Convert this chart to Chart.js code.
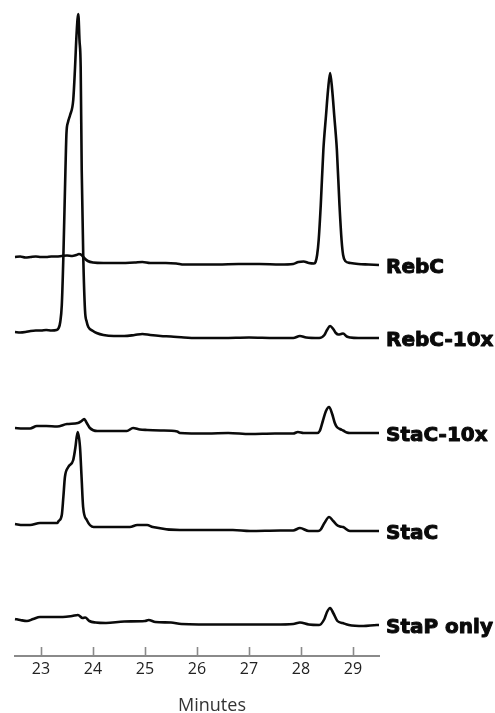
<!DOCTYPE html>
<html>
<head>
<meta charset="utf-8">
<script src="https://cdn.jsdelivr.net/npm/chart.js@4.4.1/dist/chart.umd.min.js"></script>
<style>
  html, body { margin: 0; padding: 0; background: #ffffff; }
  #wrap { width: 495px; height: 713px; }
</style>
</head>
<body>
<div id="wrap"><canvas id="c" width="495" height="713"></canvas></div>
<script>
// ---- Data (retention time in minutes, detector signal in arbitrary units) ----
const traceNames = ["RebC", "RebC-10x", "StaC-10x", "StaC", "StaP only"];
const traceOffsets = [392, 319, 223, 125, 31];
const xTickValues = [23, 24, 25, 26, 27, 28, 29];
const xAxisTitle = "Minutes";

const rebcTimes  = [22.5,22.6,22.7,22.8,22.9,23.0,23.1,23.2,23.3,23.4,23.5,23.6,23.68,23.73,23.78,23.83,23.9,24.0,24.2,24.5,24.8,24.95,25.1,25.4,25.6,25.75,26.0,26.4,26.8,27.2,27.6,27.85,27.95,28.05,28.15,28.25,28.28,28.31,28.34,28.38,28.43,28.48,28.52,28.56,28.60,28.64,28.69,28.74,28.78,28.81,28.85,28.95,29.1,29.3,29.5];
const rebcSignal = [7,7.5,6.5,7,7.5,7,7,7.5,7.5,8,8.5,8,9,10,9,6,3,1.5,1,1,1.5,2,1,1,0.5,-0.5,-0.5,-0.5,0,0,-0.5,0,2,2.5,1,0.5,2,9,24,59,114,148,174,191,174,148,114,59,24,9,3,1,0,-0.5,-1];

const rebc10Times  = [22.5,22.6,22.7,22.8,22.9,23.0,23.1,23.2,23.3,23.34,23.37,23.40,23.43,23.47,23.49,23.52,23.56,23.62,23.655,23.685,23.717,23.74,23.763,23.783,23.813,23.846,23.88,23.91,24.0,24.07,24.2,24.4,24.6,24.8,24.95,25.1,25.3,25.5,25.75,26.0,26.5,27.0,27.5,27.85,27.98,28.1,28.35,28.45,28.5,28.56,28.62,28.67,28.72,28.77,28.81,28.88,28.95,29.1,29.3,29.5];
const rebc10Signal = [5,4.5,5,6,6.5,6.5,7,6.5,7,9,15,32,80,167,204,215,222,237,270,304,323,297,270,167,80,27,15,10,6,4,2,1,1,2,3,2,1,0.5,-0.5,-1,-1,-0.5,-1,-1,1,-0.5,-1,2,7,11,8,4,2.5,3,3.5,0.5,-0.5,-1,-1,-1];

const stac10Times  = [22.5,22.65,22.79,22.92,23.1,23.31,23.5,23.71,23.78,23.83,23.88,23.94,24.08,24.4,24.65,24.77,24.9,25.04,25.3,25.62,25.67,26.2,26.6,27.02,27.5,27.85,27.94,28.05,28.31,28.36,28.42,28.48,28.54,28.60,28.65,28.69,28.75,28.81,28.88,28.94,29.2,29.5];
const stac10Signal = [5,4.5,4.5,7,7,6.5,9,10,12,14,10,5,2,2,2,5,3.5,3,2.5,1.5,0,-0.5,0,-1,-0.5,-0.5,1,0,0,2,12,22,26,19,10,6,4,2.5,0.5,0,0,0];

const stacTimes  = [22.5,22.65,22.79,22.98,23.15,23.31,23.34,23.40,23.43,23.46,23.525,23.62,23.66,23.705,23.75,23.78,23.81,23.88,24.01,24.13,24.71,24.85,25.04,25.15,25.67,26.69,27.02,27.6,27.85,27.98,28.15,28.33,28.38,28.45,28.54,28.62,28.69,28.75,28.81,28.94,29.2,29.5];
const stacSignal = [7,6,6,8,8,8,10,16,34,54,64,71,83,99,84,54,24,11,4,4,4,6,6,4,1,1,0,0.5,0.5,3,0,0,1.5,8,14,10,6,4.5,4,0,0,0];

const stapTimes  = [22.5,22.6,22.73,22.85,22.98,23.2,23.42,23.6,23.71,23.8,23.85,23.93,24.05,24.25,24.6,25.0,25.07,25.2,25.5,25.7,26.5,27.5,27.85,27.98,28.15,28.35,28.45,28.5,28.56,28.62,28.7,28.8,28.92,29.2,29.46,29.5];
const stapSignal = [6,5,4,6,8,8,8,9,10,7,7.5,4,2.5,2,3.5,4,5,3,2.5,1,0.5,0.5,1,2.5,0.5,0,6,13,17,12,4,2,0,-1,0,0];

const traceTimes = [rebcTimes, rebc10Times, stac10Times, stacTimes, stapTimes];
const traceSignals = [rebcSignal, rebc10Signal, stac10Signal, stacSignal, stapSignal];

// ---- Build datasets ----
const datasets = traceNames.map((name, k) => ({
  label: name,
  data: traceTimes[k].map((t, i) => ({ x: t, y: traceOffsets[k] + traceSignals[k][i] })),
  borderColor: '#0a0a0a',
  borderWidth: 2.6,
  pointRadius: 0,
  fill: false,
  cubicInterpolationMode: 'monotone',
  tension: 0.4,
  clip: false
}));

// Upward tick marks on the x axis + axis title (drawn slightly right of centre, as in the original)
const upTicks = {
  id: 'upTicks',
  afterDraw(chart) {
    const xs = chart.scales.x;
    const ctx = chart.ctx;
    ctx.save();
    ctx.strokeStyle = '#8a8a8a';
    ctx.lineWidth = 1.6;
    xTickValues.forEach(v => {
      const px = Math.round(xs.getPixelForValue(v)) + 0.5;
      ctx.beginPath();
      ctx.moveTo(px, xs.top);
      ctx.lineTo(px, xs.top - 9);
      ctx.stroke();
    });
    ctx.fillStyle = '#333333';
    ctx.font = '18px "Open Sans", sans-serif';
    ctx.textAlign = 'center';
    ctx.textBaseline = 'middle';
    ctx.fillText(xAxisTitle, (xs.left + xs.right) / 2 + 15, xs.bottom - 7);
    ctx.restore();
  }
};

// Trace labels to the right of each trace
const traceLabels = {
  id: 'traceLabels',
  afterDatasetsDraw(chart) {
    const ctx = chart.ctx;
    const xs = chart.scales.x;
    ctx.save();
    ctx.fillStyle = '#0a0a0a';
    ctx.strokeStyle = '#0a0a0a';
    ctx.lineWidth = 1;
    ctx.lineJoin = 'round';
    ctx.font = 'bold 20px "DejaVu Sans", sans-serif';
    ctx.textAlign = 'left';
    ctx.textBaseline = 'alphabetic';
    chart.data.datasets.forEach((ds, k) => {
      const meta = chart.getDatasetMeta(k);
      const last = meta.data[meta.data.length - 1];
      ctx.fillText(ds.label, xs.right + 7, last.y + 8);
      ctx.strokeText(ds.label, xs.right + 7, last.y + 8);
    });
    ctx.restore();
  }
};

new Chart(document.getElementById('c'), {
  type: 'line',
  data: { datasets },
  options: {
    responsive: false,
    animation: false,
    devicePixelRatio: 1,
    layout: { padding: { left: 15, right: 116, top: 0, bottom: 0 } },
    plugins: {
      legend: { display: false },
      tooltip: { enabled: false }
    },
    scales: {
      x: {
        type: 'linear',
        min: 22.5,
        max: 29.5,
        afterBuildTicks: axis => { axis.ticks = xTickValues.map(v => ({ value: v })); },
        grid: { display: true, drawOnChartArea: false, drawTicks: false },
        border: { display: true, color: '#8a8a8a', width: 2 },
        ticks: {
          padding: 4,
          color: '#222222',
          font: { family: '"Open Sans", sans-serif', size: 16 },
          maxRotation: 0
        },
        title: {
          display: true,
          text: xAxisTitle,
          color: 'rgba(0,0,0,0)',
          font: { family: '"Open Sans", sans-serif', size: 18, lineHeight: 0.7 },
          padding: { top: 17.2, bottom: 0 }
        }
      },
      y: {
        type: 'linear',
        display: false,
        min: 0,
        max: 656
      }
    }
  },
  plugins: [upTicks, traceLabels]
});
</script>
</body>
</html>
